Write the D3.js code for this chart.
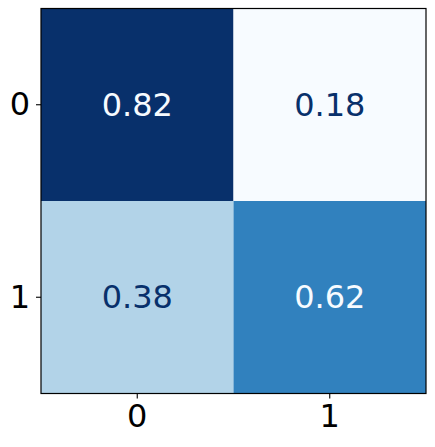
<!DOCTYPE html>
<html><head><meta charset="utf-8">
<script src="https://cdn.jsdelivr.net/npm/d3@7"></script>
<style>body{margin:0;background:#fff;} text{font-family:"DejaVu Sans",sans-serif;}</style>
</head><body>
<script>
const rowLabels = ["0", "1"];
const colLabels = ["0", "1"];
const values = [[0.82, 0.18], [0.38, 0.62]];
const blues = ["#f7fbff","#deebf7","#c6dbef","#9ecae1","#6baed6","#4292c6","#2171b5","#08519c","#08306b"];

const W = 435, H = 447;
const m = {left: 41, top: 8.5, size: 385};
const svg = d3.select("body").append("svg").attr("width", W).attr("height", H);

const x = d3.scaleBand().domain(colLabels).range([m.left, m.left + m.size]);
const y = d3.scaleBand().domain(rowLabels).range([m.top, m.top + m.size]);
const flat = values.flat();
const vmin = d3.min(flat), vmax = d3.max(flat);
const color = d3.scaleSequential(d3.piecewise(d3.interpolateRgb, blues)).domain([vmin, vmax]);
const thresh = (vmin + vmax) / 2;

const cells = [];
rowLabels.forEach((r, i) => colLabels.forEach((c, j) => cells.push({r, c, v: values[i][j]})));

svg.selectAll("rect.cell").data(cells).join("rect")
  .attr("x", d => x(d.c)).attr("y", d => y(d.r))
  .attr("width", x.bandwidth()).attr("height", y.bandwidth())
  .attr("fill", d => color(d.v));

svg.selectAll("text.val").data(cells).join("text")
  .attr("x", d => x(d.c) + x.bandwidth() / 2)
  .attr("y", d => y(d.r) + y.bandwidth() / 2)
  .attr("text-anchor", "middle").attr("dominant-baseline", "central")
  .attr("font-size", 32)
  .attr("fill", d => d.v < thresh ? blues[8] : blues[0])
  .text(d => d.v.toFixed(2));

svg.append("rect").attr("x", m.left).attr("y", m.top).attr("width", m.size).attr("height", m.size)
  .attr("fill", "none").attr("stroke", "#000").attr("stroke-width", 1.2);

const xAxis = svg.append("g").attr("transform", `translate(0,${m.top + m.size})`)
  .call(d3.axisBottom(x).tickSize(5).tickPadding(6));
const yAxis = svg.append("g").attr("transform", `translate(${m.left},0)`)
  .call(d3.axisLeft(y).tickSize(5).tickPadding(6));
[xAxis, yAxis].forEach(g => {
  g.select(".domain").remove();
  g.selectAll("line").attr("stroke", "#000").attr("stroke-width", 1.1);
  g.selectAll("text").attr("font-size", 32).attr("fill", "#000").attr("font-family", "DejaVu Sans");
});
</script>
</body></html>
